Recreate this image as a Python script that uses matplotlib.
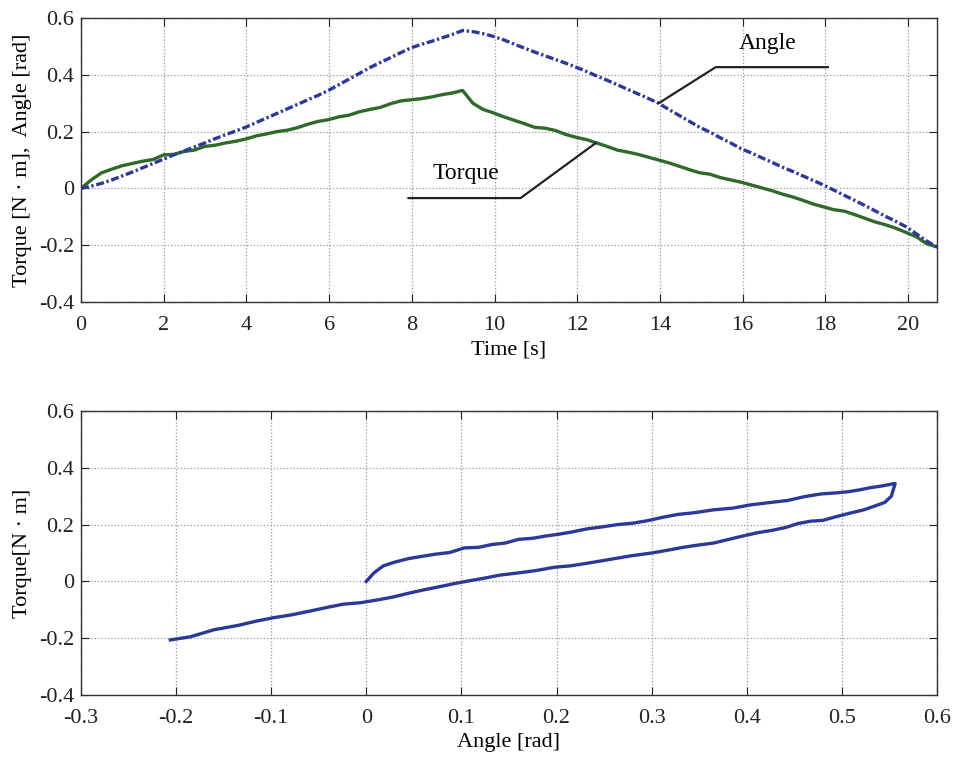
import numpy as np
import matplotlib
matplotlib.use('Agg')
import matplotlib.pyplot as plt

plt.rcParams['font.family'] = ['Liberation Serif', 'DejaVu Serif']

# sampled time base of the recording (84 samples over 20.7 s)
t = np.linspace(0, 20.7, 84)

angle = [0.000, 0.008, 0.018, 0.030, 0.044, 0.058, 0.073, 0.088, 0.103, 0.118,
         0.132, 0.146, 0.160, 0.175, 0.189, 0.202, 0.216, 0.232, 0.248, 0.264,
         0.280, 0.296, 0.312, 0.328, 0.345, 0.365, 0.385, 0.405, 0.425, 0.443,
         0.460, 0.478, 0.495, 0.507, 0.518, 0.530, 0.542, 0.556, 0.552, 0.545,
         0.535, 0.523, 0.508, 0.494, 0.480, 0.467, 0.454, 0.441, 0.427, 0.412,
         0.396, 0.381, 0.365, 0.349, 0.333, 0.317, 0.300, 0.278, 0.257, 0.236,
         0.215, 0.198, 0.178, 0.160, 0.140, 0.125, 0.108, 0.092, 0.075, 0.060,
         0.044, 0.028, 0.012, -0.006, -0.024, -0.042, -0.060, -0.079, -0.098, -0.116,
         -0.135, -0.160, -0.185, -0.206]

torque = [0.000, 0.030, 0.055, 0.068, 0.080, 0.088, 0.096, 0.102, 0.118, 0.120,
          0.130, 0.135, 0.148, 0.152, 0.160, 0.166, 0.174, 0.185, 0.192, 0.200,
          0.205, 0.214, 0.226, 0.236, 0.242, 0.252, 0.258, 0.270, 0.278, 0.285,
          0.298, 0.308, 0.312, 0.316, 0.322, 0.330, 0.336, 0.345, 0.300, 0.278,
          0.266, 0.252, 0.240, 0.228, 0.215, 0.212, 0.204, 0.190, 0.180, 0.172,
          0.160, 0.148, 0.135, 0.128, 0.120, 0.110, 0.100, 0.090, 0.078, 0.066,
          0.055, 0.050, 0.038, 0.030, 0.022, 0.012, 0.002, -0.008, -0.020, -0.030,
          -0.042, -0.055, -0.065, -0.075, -0.080, -0.092, -0.105, -0.118, -0.128, -0.140,
          -0.155, -0.170, -0.195, -0.206]

blue = '#2b3a96'
green = '#2f6a2a'
fs = 16


def style_axes(ax):
    ax.grid(True, linestyle=':', color='#999999', linewidth=0.9)
    ax.tick_params(direction='in', top=True, right=True, length=6,
                   labelsize=fs, colors='#222222')
    ax.tick_params(axis='x', pad=10)
    ax.tick_params(axis='y', pad=5)
    for s in ax.spines.values():
        s.set_color('#333333')
        s.set_linewidth(1.0)


fig = plt.figure(figsize=(9.57, 7.6), dpi=100)
ax1 = fig.add_axes([0.0846, 0.6026, 0.8945, 0.3737])
ax2 = fig.add_axes([0.0846, 0.0855, 0.8945, 0.3737])

# top: torque and angle vs time
ax1.plot(t, torque, color=green, linewidth=2.4)
ax1.plot(t, angle, color=blue, linewidth=2.4, linestyle=(0, (2.4, 0.8, 0.7, 0.8)))
ax1.set_xlim(0, 20.7)
ax1.set_ylim(-0.4, 0.6)
ax1.set_xticks(np.arange(0, 21, 2))
ax1.set_yticks([-0.4, -0.2, 0, 0.2, 0.4, 0.6])
ax1.set_yticklabels(['-0.4', '-0.2', '0', '0.2', '0.4', '0.6'])
ax1.set_xlabel('Time [s]', fontsize=fs, labelpad=4)
ax1.set_ylabel('Torque [N · m],  Angle [rad]', fontsize=fs, labelpad=5)
style_axes(ax1)

# callouts
ax1.plot([13.97, 15.35, 18.06], [0.30, 0.427, 0.427], color='#222222', linewidth=1.6)
ax1.text(16.6, 0.512, 'Angle', fontsize=17, ha='center', va='center')
ax1.plot([7.92, 10.63, 12.45], [-0.034, -0.034, 0.16], color='#222222', linewidth=1.6)
ax1.text(9.32, 0.054, 'Torque', fontsize=17, ha='center', va='center')

# bottom: torque vs angle
ax2.plot(angle, torque, color=blue, linewidth=2.4)
ax2.set_xlim(-0.3, 0.6)
ax2.set_ylim(-0.4, 0.6)
ax2.set_xticks([-0.3, -0.2, -0.1, 0, 0.1, 0.2, 0.3, 0.4, 0.5, 0.6])
ax2.set_xticklabels(['-0.3', '-0.2', '-0.1', '0', '0.1', '0.2', '0.3', '0.4', '0.5', '0.6'])
ax2.set_yticks([-0.4, -0.2, 0, 0.2, 0.4, 0.6])
ax2.set_yticklabels(['-0.4', '-0.2', '0', '0.2', '0.4', '0.6'])
ax2.set_xlabel('Angle [rad]', fontsize=fs, labelpad=4)
ax2.set_ylabel('Torque[N · m]', fontsize=fs, labelpad=5)
style_axes(ax2)

fig.savefig('out.png', dpi=100)
